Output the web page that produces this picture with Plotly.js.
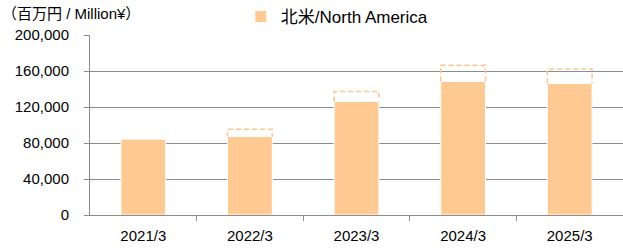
<!DOCTYPE html>
<html><head><meta charset="utf-8">
<script src="https://cdn.plot.ly/plotly-3.0.1.min.js"></script>
<style>body{margin:0;background:#fff}#c{width:623px;height:248px}</style>
</head><body><div id="c"></div>
<script>
const categories = ["2021/3","2022/3","2023/3","2024/3","2025/3"];
const actual = [84300, 87200, 126200, 148400, 146200];
const planned = [null, 95400, 137300, 166300, 162200];
const seriesName = "北米/North America";
const unitLabel = "（百万円 / Million¥）";
const yTicks = [0, 40000, 80000, 120000, 160000, 200000];

const idx = categories.map((_, i) => i);
const barW = 0.42;
const ox = [], oy = [];
planned.forEach((p, i) => {
  if (p == null) return;
  ox.push(i - barW/2, i - barW/2, i + barW/2, i + barW/2, null);
  oy.push(actual[i], p, p, actual[i], null);
});

const font = "Liberation Sans, Noto Sans CJK JP, sans-serif";
const data = [
  {type:"bar", x: idx, y: actual, name: seriesName, width: barW,
   marker:{color:"#FFC994", line:{color:"#ffffff", width:1}}, showlegend:true},
  {type:"scatter", mode:"lines", x: ox, y: oy, showlegend:false, hoverinfo:"skip",
   line:{color:"#FFC48C", width:1.5, dash:"5px,3px"}},
  {type:"scatter", mode:"markers", x:[0], y:[0], xaxis:"x2", showlegend:false,
   marker:{opacity:0}, hoverinfo:"skip"}
];
const layout = {
  width:623, height:248,
  margin:{l:90, r:0, t:35, b:33, autoexpand:false},
  paper_bgcolor:"#fff", plot_bgcolor:"#fff",
  font:{family:font, size:15, color:"#000"},
  bargap:0,
  xaxis:{range:[-0.5,4.5], tickvals:[0.5,1.5,2.5,3.5], showticklabels:false,
         ticks:"outside", ticklen:5, tickcolor:"#8c8c8c", tickwidth:1,
         showgrid:false, showline:true, linecolor:"#8c8c8c", linewidth:1, zeroline:false, fixedrange:true},
  xaxis2:{overlaying:"x", matches:"x", range:[-0.5,4.5], tickvals:idx, ticktext:categories,
          ticks:"", showgrid:false, showline:false, zeroline:false, side:"bottom",
          tickfont:{size:15}, ticklabelstandoff:10},
  yaxis:{range:[0,200000], tickvals:yTicks, ticktext:yTicks.map(v=>v.toLocaleString("en-US")),
         ticks:"outside", ticklen:5, tickcolor:"#8c8c8c", showline:true, linecolor:"#8c8c8c",
         showgrid:true, gridcolor:"#8c8c8c", gridwidth:1, zeroline:false, ticklabelstandoff:12,
         tickfont:{size:15}},
  showlegend:true,
  legend:{orientation:"h", x:0.283, xanchor:"left", y:1.1, yanchor:"middle",
          font:{size:17}, bgcolor:"rgba(0,0,0,0)"},
  annotations:[{text:unitLabel, xref:"paper", yref:"paper", x:-0.168, y:1.117,
                xanchor:"left", yanchor:"middle", showarrow:false, font:{size:15}}]
};
Plotly.newPlot("c", data, layout, {displayModeBar:false, staticPlot:true});
</script></body></html>
